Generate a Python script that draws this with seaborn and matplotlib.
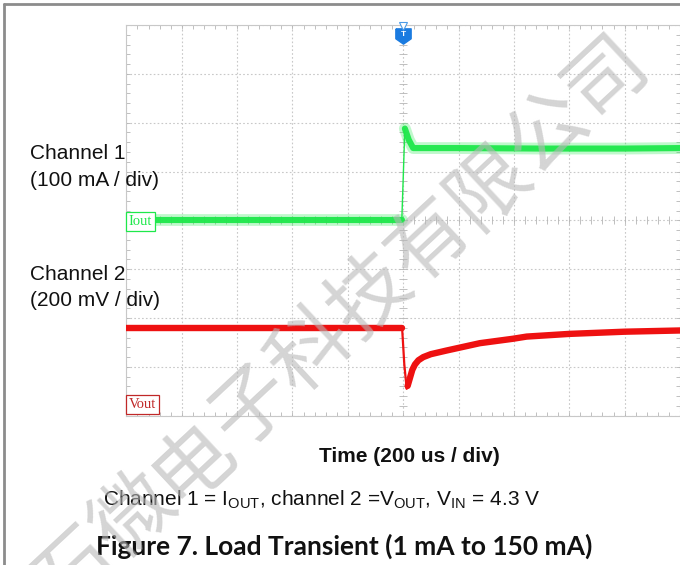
import numpy as np
import pandas as pd
import seaborn as sns
import matplotlib.pyplot as plt
from matplotlib.lines import Line2D
from matplotlib.ticker import MultipleLocator

# ---------------- data (read from the scope capture) ----------------
# Channel 1: output current (100 mA / div), trigger at t = 0
time_ch1_us = [-1000, -5, 2, 6, 20, 36, 200, 500, 800, 1000]
iout_mA = [1, 1, 120, 188, 165, 148, 148, 147, 147, 148]
# Channel 2: output voltage deviation (200 mV / div)
time_ch2_us = [-1000, -4, 4, 12.6, 16, 24.5, 33, 42.6, 55, 72.6, 100, 157, 277, 396, 446, 600, 800, 1000]
dvout_mV = [0, 0, -150, -250, -238, -205, -172, -150, -133, -120, -108, -93, -63, -45, -36, -25, -16, -11]

ch1_scale_mA = 100   # mA / div
ch2_scale_mV = 200   # mV / div
ch1_pos_div = 0.0    # channel position on screen
ch2_pos_div = -2.2

time_per_div_us = 200
channel_labels = ["Channel 1", "(100 mA / div)", "Channel 2", "(200 mV / div)"]
xlabel_text = "Time (200 us / div)"
caption_text = r"Channel 1 = I$_{\mathrm{OUT}}$, channel 2 =V$_{\mathrm{OUT}}$, V$_{\mathrm{IN}}$ = 4.3 V"
title_text = "Figure 7. Load Transient (1 mA to 150 mA)"
watermark_text = "石微电子科技有限公司"

# ---------------- style ----------------
sns.set_theme(style="white")
plt.rcParams['font.family'] = ['Liberation Sans', 'DejaVu Sans']
plt.rcParams['mathtext.fontset'] = 'custom'
plt.rcParams['mathtext.rm'] = 'Liberation Sans'
plt.rcParams['mathtext.it'] = 'Liberation Sans:italic'
plt.rcParams['mathtext.bf'] = 'Liberation Sans:bold'

W, H = 680, 565
fig = plt.figure(figsize=(W / 100, H / 100), dpi=100)
fig.patch.set_facecolor('white')

left_px, right_px, top_px, bot_px = 126.4, 680, 25, 415.7
ax = fig.add_axes([left_px / W, 1 - bot_px / H, (right_px - left_px) / W, (bot_px - top_px) / H])
ax.set_facecolor('white')

df1 = pd.DataFrame({"t": time_ch1_us, "v": iout_mA})
df1["div"] = df1["v"] / ch1_scale_mA + ch1_pos_div
df2 = pd.DataFrame({"t": time_ch2_us, "v": dvout_mV})
df2["div"] = df2["v"] / ch2_scale_mV + ch2_pos_div

green = "#1ee84a"
red = "#ee1111"

# channel 1 pieces: flat parts thick (persistence band), edges thin
pre1 = df1[df1.t <= -5]
edge1 = df1[(df1.t >= -5) & (df1.t <= 6)]
post1 = df1[df1.t >= 6]
for part in (pre1, post1):
    sns.lineplot(data=part, x="t", y="div", ax=ax, color=green, lw=8.5, alpha=0.28,
                 estimator=None, sort=False, zorder=3)
    sns.lineplot(data=part, x="t", y="div", ax=ax, color=green, lw=4.4, alpha=0.95,
                 estimator=None, sort=False, zorder=4)
sns.lineplot(data=edge1, x="t", y="div", ax=ax, color=green, lw=1.0,
             estimator=None, sort=False, zorder=4)

# channel 2 pieces
pre2 = df2[df2.t <= -4]
edge2 = df2[(df2.t >= -4) & (df2.t <= 24.5)]
post2 = df2[df2.t >= 16]
sns.lineplot(data=pre2, x="t", y="div", ax=ax, color=red, lw=4.6,
             estimator=None, sort=False, zorder=4)
sns.lineplot(data=edge2, x="t", y="div", ax=ax, color=red, lw=1.6,
             estimator=None, sort=False, zorder=4)
sns.lineplot(data=post2, x="t", y="div", ax=ax, color=red, lw=4.6,
             estimator=None, sort=False, zorder=4, solid_capstyle='round')

# ---------------- graticule ----------------
ax.set_xlim(-5 * time_per_div_us, 5 * time_per_div_us)
ax.set_ylim(-4, 4)
ax.xaxis.set_major_locator(MultipleLocator(time_per_div_us))
ax.yaxis.set_major_locator(MultipleLocator(1))
ax.xaxis.set_minor_locator(MultipleLocator(time_per_div_us / 5))
ax.yaxis.set_minor_locator(MultipleLocator(0.2))
ax.grid(True, which='major', ls=(0, (1.5, 2)), color='#c8c8c8', lw=0.8)
ax.tick_params(which='both', direction='in', top=True, bottom=True, left=True, right=True,
               labelbottom=False, labelleft=False, color='#b5b5b5')
ax.tick_params(which='major', length=3, width=0.6)
ax.tick_params(which='minor', length=3, width=0.6)
ax.set_xlabel("")
ax.set_ylabel("")
for s in ('top', 'left', 'bottom'):
    ax.spines[s].set_color('#c8c8c8')
    ax.spines[s].set_linewidth(0.8)
ax.spines['right'].set_visible(False)

# centre cross tick marks
xm = np.arange(-1000, 1001, time_per_div_us / 5)
ym = np.arange(-4, 4.01, 0.2)
ax.plot(xm, np.zeros_like(xm), ls='none', marker='|', ms=6, mew=0.6, color='#b5b5b5', zorder=2)
ax.plot(np.zeros_like(ym), ym, ls='none', marker='_', ms=6, mew=0.6, color='#b5b5b5', zorder=2)

# channel ground markers
ax.text(-992, ch1_pos_div - 0.02, "Iout", color=green, fontsize=10.5, va='center', ha='left',
        family='Liberation Serif', zorder=6,
        bbox=dict(boxstyle='square,pad=0.2', fc='white', ec=green, lw=0.9))
ax.text(-990, -3.77, "Vout", color='#c02828', fontsize=10.5, va='center', ha='left',
        family='Liberation Serif', zorder=6,
        bbox=dict(boxstyle='square,pad=0.2', fc='white', ec='#c02828', lw=0.9))

# trigger marker
shield = [(-1, 1), (1, 1), (1, -0.3), (0, -1), (-1, -0.3), (-1, 1)]
ax.plot([0], [3.78], marker=shield, ms=11, color='#1a7be0', mec='#1a7be0', zorder=7, clip_on=False)
ax.text(0, 3.8, "T", color='white', fontsize=6, fontweight='bold', ha='center', va='center', zorder=8)
ax.plot([0], [3.98], marker='v', ms=6, mfc='white', mec='#4a9be8', mew=0.8, zorder=7, clip_on=False)

# ---------------- texts ----------------
def fx(px):
    return px / W

def fy(py):
    return 1 - py / H

fig.text(fx(30), fy(153), channel_labels[0], fontsize=15, va='center', ha='left', color='#111')
fig.text(fx(30), fy(180), channel_labels[1], fontsize=15, va='center', ha='left', color='#111')
fig.text(fx(30), fy(275), channel_labels[2], fontsize=15, va='center', ha='left', color='#111')
fig.text(fx(30), fy(300), channel_labels[3], fontsize=15, va='center', ha='left', color='#111')

fig.text(fx(409), fy(456), xlabel_text, fontsize=15, fontweight='bold', ha='center', va='center', color='#111')
fig.text(fx(322), fy(500), caption_text, fontsize=15, ha='center', va='center', color='#111')
fig.text(fx(344), fy(546), title_text, fontsize=19, fontweight='bold', family='Lato',
         ha='center', va='center', color='#111')

# outer frame
fig.add_artist(Line2D([fx(4), fx(4)], [0, fy(4)], color='#8c8c8c', lw=2))
fig.add_artist(Line2D([fx(4), 1], [fy(4), fy(4)], color='#8c8c8c', lw=2))

# watermark (one glyph per position along the diagonal)
ang = np.deg2rad(43)
step = 80.7
for i, ch in enumerate(watermark_text):
    cx = 341 + (i - 4.5) * step * np.cos(ang)
    cy = 324 - (i - 4.5) * step * np.sin(ang)
    fig.text(fx(cx), fy(cy), ch, fontsize=58, rotation=43, rotation_mode='anchor',
             ha='center', va='center', color='#b8b8b8', alpha=0.6, zorder=20,
             family=['Noto Sans CJK SC', 'DejaVu Sans'])

fig.savefig('out.png', dpi=100)
